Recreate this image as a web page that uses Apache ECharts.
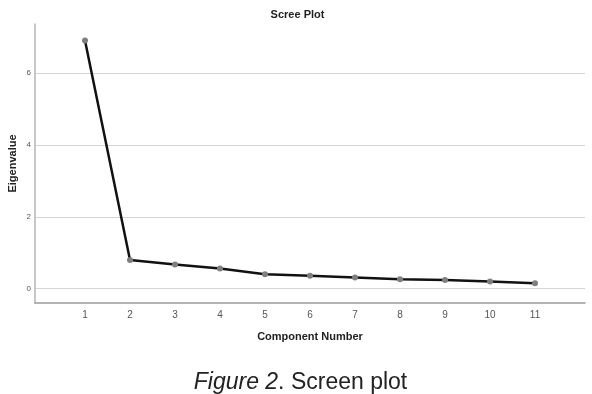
<!DOCTYPE html>
<html><head><meta charset="utf-8">
<script src="https://cdn.jsdelivr.net/npm/echarts@6/dist/echarts.min.js"></script>
<style>html,body{margin:0;padding:0;background:#fff}#c{width:592px;height:394px}</style>
</head><body><div id="c"></div>
<script>
const components = [1,2,3,4,5,6,7,8,9,10,11];
const eigenvalues = [6.91,0.80,0.67,0.56,0.40,0.36,0.31,0.26,0.24,0.20,0.15];
const yTicks = [0,2,4,6];
const xTicks = [1,2,3,4,5,6,7,8,9,10,11];

const chart = echarts.init(document.getElementById('c'));
chart.setOption({
  animation:false,
  backgroundColor:'#fff',
  title:[
    {text:'Scree Plot',left:292.5,top:4,textAlign:'center',textStyle:{fontFamily:'Liberation Sans',fontSize:11,fontWeight:'bold',color:'#222'}},
    {text:'{i|Figure 2}{n|. Screen plot}',left:295.5,top:366,textAlign:'center',
     textStyle:{fontWeight:'normal',rich:{i:{fontFamily:'Liberation Sans',fontSize:23,fontStyle:'italic',fontWeight:'normal',color:'#222'},n:{fontFamily:'Liberation Sans',fontSize:23,fontWeight:'normal',color:'#222'}}}}
  ],
  grid:{left:35,right:7,top:24,bottom:91,containLabel:false,outerBoundsMode:'none'},
  xAxis:{type:'value',min:-0.111,max:12.111,
    name:'Component Number',nameLocation:'middle',nameGap:28,nameMoveOverlap:false,
    nameTextStyle:{fontFamily:'Liberation Sans',fontSize:11,fontWeight:'bold',color:'#222'},
    axisLine:{show:true,onZero:false,lineStyle:{color:'#9a9a9a',width:1.5}},
    axisTick:{show:false,customValues:xTicks},
    axisLabel:{customValues:xTicks,fontFamily:'Liberation Sans',fontSize:10,color:'#555',margin:7},
    splitLine:{show:false}},
  yAxis:{type:'value',min:-0.4,max:7.37,
    name:'Eigenvalue',nameLocation:'middle',nameGap:17,nameMoveOverlap:false,
    nameTextStyle:{fontFamily:'Liberation Sans',fontSize:11,fontWeight:'bold',color:'#222'},
    axisLine:{show:true,onZero:false,lineStyle:{color:'#b5b5b5',width:1.5}},
    axisTick:{show:false,customValues:yTicks},
    axisLabel:{customValues:yTicks,fontFamily:'Liberation Sans',fontSize:8,color:'#555',margin:4},
    splitLine:{show:true,lineStyle:{color:'#d4d4d4',width:1}}},
  series:[{type:'line',data:components.map((c,i)=>[c,eigenvalues[i]]),
    symbol:'circle',symbolSize:6,
    lineStyle:{color:'#111',width:2.5},
    itemStyle:{color:'#7f7f7f'}}]
});
</script></body></html>
